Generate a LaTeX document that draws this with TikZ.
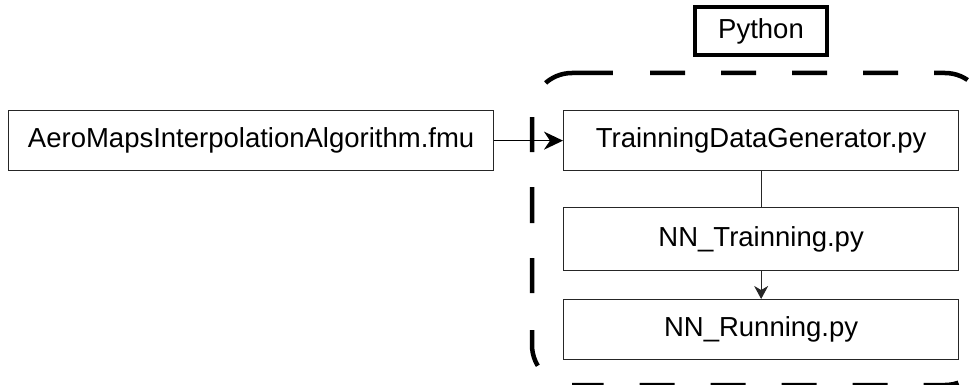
\documentclass[tikz,border=0pt]{standalone}
\usepackage{fontspec}
\setmainfont{Liberation Sans}
\usetikzlibrary{arrows.meta}
\begin{document}
\begin{tikzpicture}[x=1pt,y=-1pt,
  box/.style={draw=black!85, line width=1.3pt, minimum height=60pt, inner sep=0pt,
    font=\fontsize{27.5}{30}\selectfont, anchor=north west},
  conn/.style={draw=black!85, line width=1.3pt},
  bigarr/.style={draw=black, line width=1.7pt, -{Stealth[length=19pt,width=18pt,inset=6pt]}},
  arr/.style={conn, -{Stealth[length=13pt,width=14pt,inset=4pt]}},
  grp/.style={line width=4.5pt, rounded corners=40pt}]
\useasboundingbox (0,0) rectangle (980,385);
% dashed group (top, right and bottom; then left side with its corners)
\draw[grp, dash pattern=on 35pt off 36pt]
  (650,73) -- (985,73) -- (985,385) -- (572,385);
\draw[grp, dash pattern=on 36.8pt off 37pt on 35pt off 35pt on 36pt off 35pt on 35pt off 38pt on 69.8pt off 141pt,
  dash phase=457.6pt]
  (572,385) -- (532,385) -- (532,73) -- (650,73);
% label
\node[draw, line width=4pt, minimum width=132pt, minimum height=48pt, inner sep=0pt,
  font=\fontsize{27.5}{30}\selectfont] (py) at (761,31) {Python};
% boxes
\node[box, minimum width=485pt] (aero) at (8,110) {AeroMapsInterpolationAlgorithm.fmu};
\node[box, minimum width=395pt] (tdg) at (563,110) {TrainningDataGenerator.py};
\node[box, minimum width=395pt, minimum height=63pt] (nnt) at (563,207) {NN\_Trainning.py};
\node[box, minimum width=395pt] (nnr) at (563,299) {NN\_Running.py};
% connectors
\draw[bigarr] (aero.east) -- (tdg.west);
\draw[conn] (tdg.south) -- (nnt.north);
\draw[arr] (nnt.south) -- (nnr.north);
\end{tikzpicture}
\end{document}
